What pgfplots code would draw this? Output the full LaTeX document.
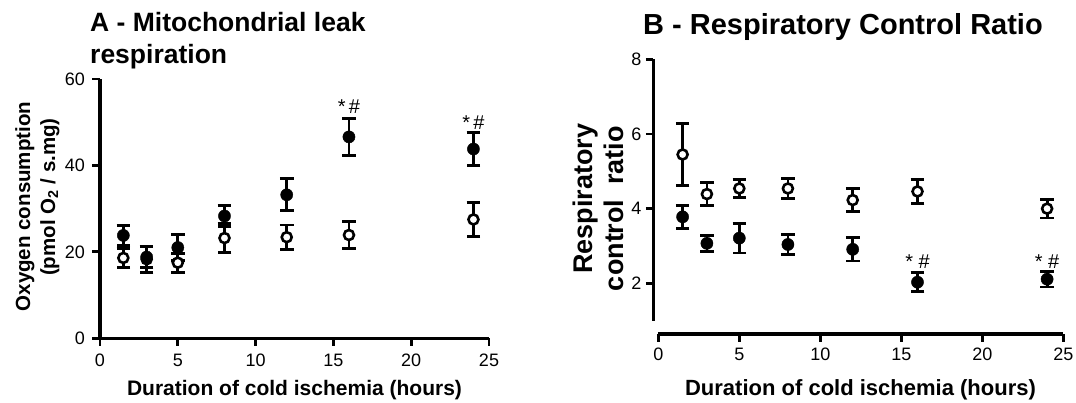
\documentclass[border=0pt]{standalone}
\usepackage{fontspec}
\setmainfont{Liberation Sans}
\usepackage{pgfplots}
\pgfplotsset{compat=1.18}

\pgfplotstableread{
x y e
1.5 18.6 2.2
3 18.3 3.0
5 17.5 2.2
8 23.2 3.4
12 23.4 2.8
16 23.9 3.1
24 27.5 3.9
}\Aopen
\pgfplotstableread{
x y e
1.5 23.8 2.3
3 18.8 2.4
5 21.0 3.0
8 28.3 2.5
12 33.2 3.7
16 46.6 4.3
24 43.8 3.8
}\Afill
\pgfplotstableread{
x y e
1.5 5.45 0.83
3 4.39 0.30
5 4.54 0.25
8 4.54 0.27
12 4.23 0.31
16 4.46 0.32
24 4.00 0.25
}\Bopen
\pgfplotstableread{
x y e
1.5 3.78 0.31
3 3.07 0.22
5 3.21 0.40
8 3.04 0.26
12 2.91 0.31
16 2.03 0.26
24 2.11 0.21
}\Bfill

\newcommand{\tfont}{\fontsize{18}{18}\selectfont}
\newcommand{\afont}{\fontsize{20}{20}\selectfont}

\pgfplotsset{
  mystyle/.style={
    scale only axis, clip=false,
    axis x line=bottom, axis y line=left,
    axis line style={draw=none},
    tick align=outside, major tick length=7.5pt,
    every tick/.append style={black, line width=2.8pt},
    /pgf/number format/assume math mode=true,
    xticklabel={\tfont\pgfmathprintnumber{\tick}},
    yticklabel={\tfont\pgfmathprintnumber{\tick}},
    xtick={0,5,...,25},
  },
  openser/.style={only marks, mark=*, mark size=5.0pt,
    mark options={fill=white, draw=black, line width=2.6pt},
    error bars/.cd, y dir=both, y explicit,
    error bar style={line width=2.8pt, black},
    error mark options={line width=2.8pt, black, mark size=6.8pt, rotate=90}},
  fillser/.style={only marks, mark=*, mark size=6.1pt,
    mark options={fill=black, draw=black},
    error bars/.cd, y dir=both, y explicit,
    error bar style={line width=2.8pt, black},
    error mark options={line width=2.8pt, black, mark size=6.8pt, rotate=90}},
}

\begin{document}
\begin{tikzpicture}[x=1pt,y=1pt]
\useasboundingbox (0,0) rectangle (1076,402);

% Panel A
\begin{axis}[mystyle, at={(100pt,63.7pt)}, anchor=south west,
  width=389pt, height=259.3pt,
  xmin=0, xmax=25, ymin=0, ymax=60, ytick={0,20,40,60},
  xticklabel style={yshift=-5pt}, yticklabel style={xshift=-4pt}]
\draw[line width=3.1pt, black] (axis cs:0,60) -- (axis cs:0,0) -- (axis cs:25,0);
\pgfplotsinvokeforeach{0,5,10,15,20,25}{\draw[line width=2.8pt, black] (axis cs:#1,0) -- ++(0pt,-7.5pt);}
\pgfplotsinvokeforeach{0,20,40,60}{\draw[line width=2.8pt, black] (axis cs:0,#1) -- ++(-7.5pt,0pt);}
\addplot+[openser] table[x=x, y=y, y error=e] {\Aopen};
\addplot+[fillser] table[x=x, y=y, y error=e] {\Afill};
\node[anchor=base, inner sep=0pt] at (axis cs:16,52.1) {\afont *\,\#};
\node[anchor=base, inner sep=0pt] at (axis cs:24,48.2) {\afont *\,\#};
\end{axis}

% Panel B
\begin{axis}[mystyle, at={(653.3pt,68pt)}, anchor=south west,
  width=410pt, height=274.7pt,
  xmin=-0.309, xmax=25, ymin=0.642, ymax=8, ytick={2,4,6,8},
  xticklabel style={yshift=-3pt}, yticklabel style={xshift=-1pt}]
\draw[line width=3.1pt, black] (axis cs:-0.309,1) -- (axis cs:-0.309,8);
\draw[line width=3.1pt, black] (axis cs:0,0.642) -- (axis cs:25,0.642);
\addplot+[openser] table[x=x, y=y, y error=e] {\Bopen};
\addplot+[fillser] table[x=x, y=y, y error=e] {\Bfill};
\node[anchor=base, inner sep=0pt] at (axis cs:16,2.40) {\afont *\ \#};
\node[anchor=base, inner sep=0pt] at (axis cs:24,2.40) {\afont *\ \#};
\end{axis}

% Titles
\node[anchor=base west, inner sep=0pt, font=\bfseries\fontsize{26.5}{26.5}\selectfont] at (90,370.3) {A - Mitochondrial leak};
\node[anchor=base west, inner sep=0pt, font=\bfseries\fontsize{26.5}{26.5}\selectfont] at (90,338.7) {respiration};
\node[anchor=base west, inner sep=0pt, font=\bfseries\fontsize{29}{29}\selectfont] at (643,367) {B - Respiratory Control Ratio};

% X labels
\node[anchor=base, inner sep=0pt, font=\bfseries\fontsize{21}{21}\selectfont] at (294.5,7) {Duration of cold ischemia (hours)};
\node[anchor=base, inner sep=0pt, font=\bfseries\fontsize{22}{22}\selectfont] at (860.5,7) {Duration of cold ischemia (hours)};

% Y labels
\node[rotate=90, anchor=base, inner sep=0pt, font=\bfseries\fontsize{20.5}{20.5}\selectfont] at (30,195.5) {Oxygen consumption};
\node[rotate=90, anchor=base, inner sep=0pt, font=\bfseries\fontsize{20.5}{20.5}\selectfont] at (55,205) {(pmol O\textsubscript{2} / s.mg)};
\node[rotate=90, anchor=base, inner sep=0pt, font=\bfseries\fontsize{27}{27}\selectfont] at (592.7,203.5) {Respiratory};
\node[rotate=90, anchor=base, inner sep=0pt, font=\bfseries\fontsize{27}{27}\selectfont] at (623,193.5) {control\ \ ratio};
\end{tikzpicture}
\end{document}
